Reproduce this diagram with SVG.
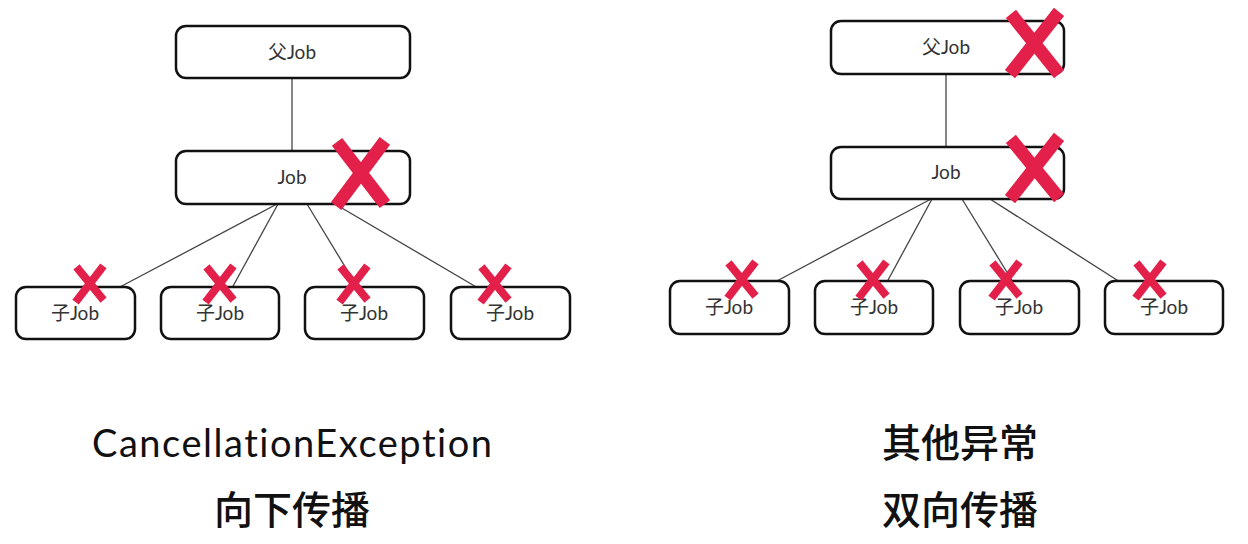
<svg xmlns="http://www.w3.org/2000/svg" width="1248" height="544" viewBox="0 0 1248 544">
<style>
.box{fill:#fff;stroke:#111;stroke-width:2.5}
.lbl{font-family:Lato,"Noto Sans CJK SC",sans-serif;font-size:19px;fill:#333;text-anchor:middle}
.conn line{stroke:#444;stroke-width:1.3}
.x{stroke:#e3204a;stroke-linecap:square;fill:none}
.big{stroke-width:13}
.sm{stroke-width:8}
.cap{font-family:Lato,"Noto Sans CJK SC",sans-serif;font-size:38px;fill:#111;text-anchor:middle;font-variant-ligatures:none}
.cjk{font-family:"Noto Sans CJK SC",sans-serif;font-size:39px;font-weight:500;fill:#111;text-anchor:middle}
</style>
<g class="conn">
<line x1="292" y1="78" x2="292" y2="151"/>
<line x1="277" y1="204" x2="118" y2="288"/>
<line x1="278" y1="204" x2="232" y2="288"/>
<line x1="307" y1="204" x2="358" y2="288"/>
<line x1="335" y1="204" x2="478" y2="288"/>
<line x1="946" y1="74" x2="946" y2="147"/>
<line x1="931" y1="199" x2="775" y2="282"/>
<line x1="932" y1="199" x2="887" y2="282"/>
<line x1="962" y1="199" x2="1013" y2="282"/>
<line x1="990" y1="199" x2="1120" y2="282"/>
</g>
<g id="L-parent"><rect class="box" x="176" y="26" width="234" height="52" rx="10"/><text class="lbl" x="292" y="59">父Job</text></g>
<g id="L-job"><rect class="box" x="176" y="151" width="234" height="53" rx="10"/><text class="lbl" x="292" y="184">Job</text></g>
<g id="L-c1"><rect class="box" x="16" y="287" width="119" height="52" rx="10"/><text class="lbl" x="75" y="320">子Job</text></g>
<g id="L-c2"><rect class="box" x="161" y="287" width="118" height="52" rx="10"/><text class="lbl" x="220" y="320">子Job</text></g>
<g id="L-c3"><rect class="box" x="305" y="287" width="119" height="52" rx="10"/><text class="lbl" x="364" y="320">子Job</text></g>
<g id="L-c4"><rect class="box" x="451" y="287" width="119" height="52" rx="10"/><text class="lbl" x="510" y="320">子Job</text></g>
<g id="R-parent"><rect class="box" x="831" y="21" width="233" height="53" rx="10"/><text class="lbl" x="946" y="54">父Job</text></g>
<g id="R-job"><rect class="box" x="831" y="147" width="233" height="52" rx="10"/><text class="lbl" x="946" y="179">Job</text></g>
<g id="R-c1"><rect class="box" x="670" y="281" width="119" height="53" rx="10"/><text class="lbl" x="729" y="314">子Job</text></g>
<g id="R-c2"><rect class="box" x="815" y="281" width="118" height="53" rx="10"/><text class="lbl" x="874" y="314">子Job</text></g>
<g id="R-c3"><rect class="box" x="960" y="281" width="119" height="53" rx="10"/><text class="lbl" x="1019" y="314">子Job</text></g>
<g id="R-c4"><rect class="box" x="1105" y="281" width="118" height="53" rx="10"/><text class="lbl" x="1164" y="314">子Job</text></g>
<g id="marks">
<path class="x big" d="M341 147 L381 199 M381 146 L340 201"/>
<path class="x big" d="M1015 19 L1055 69 M1055 17 L1014 69"/>
<path class="x big" d="M1015 144 L1055 193 M1055 142 L1014 194"/>
<path class="x sm" d="M79 270 L101 297 M101 269 L78 299"/>
<path class="x sm" d="M209 270 L231 297 M231 269 L208 299"/>
<path class="x sm" d="M343 270 L365 297 M365 269 L342 299"/>
<path class="x sm" d="M484 270 L506 297 M506 269 L483 299"/>
<path class="x sm" d="M731 266 L753 293 M753 265 L730 295"/>
<path class="x sm" d="M862 266 L884 293 M884 265 L861 295"/>
<path class="x sm" d="M995 266 L1017 293 M1017 265 L994 295"/>
<path class="x sm" d="M1139 266 L1161 293 M1161 265 L1138 295"/>
</g>
<text class="cap" x="292" y="457" textLength="400" lengthAdjust="spacing">CancellationException</text>
<text class="cjk" x="292" y="524">向下传播</text>
<text class="cjk" x="960" y="457">其他异常</text>
<text class="cjk" x="960" y="524">双向传播</text>
</svg>
